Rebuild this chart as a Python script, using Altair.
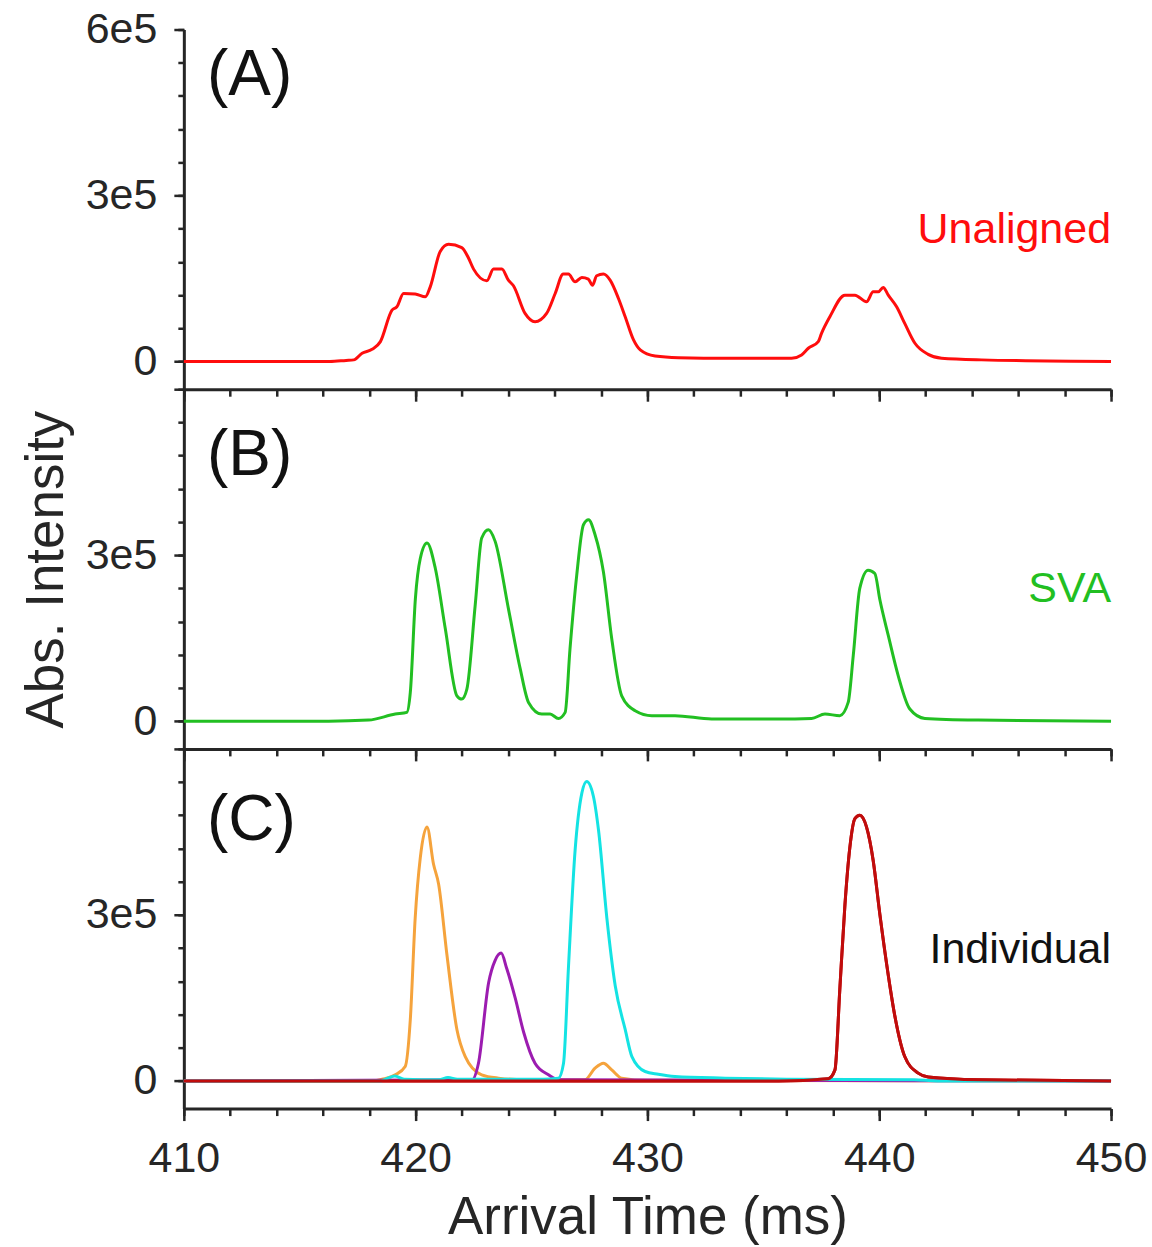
import altair as alt
import pandas as pd

FONT = "Liberation Sans"
INK = "#262626"

# ---------------- data ----------------
# Panel A: Unaligned
a_x = [410, 414, 416.3, 417.0, 417.33, 417.69, 418.12, 418.48, 418.98, 419.19, 419.48, 419.98,
       420.42, 420.63, 421.06, 421.42, 421.99, 422.28, 422.5, 423.07, 423.36, 423.72, 424.0,
       424.22, 424.72, 425.15, 425.65, 426.02, 426.37, 426.59, 426.88, 427.17, 427.45, 427.63,
       427.81, 428.1, 428.39, 428.75, 429.04, 429.4, 429.69, 430.33, 431.34, 433.5, 436.22,
       436.65, 436.94, 437.37, 437.51, 437.87, 438.52, 438.95, 439.45, 439.74, 439.96, 440.17,
       440.39, 440.75, 441.1, 441.54, 442.11, 442.69, 444.41, 450]
a_y = [0, 0, 0, 2000, 3000, 15000, 22000, 36000, 93000, 99000, 123000, 122000,
       117000, 135000, 199000, 212000, 206000, 187000, 167000, 146000, 167000, 167000, 147000,
       137000, 87000, 72000, 87000, 123000, 158000, 158000, 144000, 152000, 149000, 138000,
       155000, 158000, 147000, 114000, 81000, 39000, 21000, 10000, 7000, 6000, 6000,
       12000, 24000, 36000, 51000, 81000, 120000, 120000, 108000, 126000, 126000, 134000,
       120000, 99000, 69000, 33000, 13000, 6000, 3000, 0]

# Panel B: SVA
b_x = [410, 416.25, 417.97, 419.12, 419.62, 419.77, 419.99, 420.2, 420.49, 420.85, 421.28,
       421.78, 421.99, 422.21, 422.57, 422.85, 423.14, 423.43, 424.0, 424.51, 424.87, 425.44,
       425.8, 426.16, 426.45, 426.66, 426.95, 427.24, 427.46, 427.74, 428.1, 428.46, 428.89,
       429.47, 430.19, 431.19, 432.77, 435.65, 437.08, 437.66, 438.3, 438.66, 438.88, 439.16,
       439.52, 439.81, 440.03, 440.39, 440.82, 441.32, 441.97, 444.27, 450]
b_y = [0, 0, 2000, 13000, 16000, 52000, 222000, 294000, 322000, 276000, 167000,
       46000, 40000, 58000, 210000, 331000, 346000, 325000, 204000, 95000, 34000, 13000,
       13000, 5000, 16000, 131000, 264000, 355000, 364000, 337000, 270000, 149000, 46000,
       19000, 10000, 10000, 4000, 4000, 5000, 13000, 10000, 34000, 119000, 240000,
       273000, 267000, 219000, 155000, 82000, 22000, 5000, 2000, 0]

# Panel C: Individual
c1_x = [410, 418.2, 418.55, 419.12, 419.55, 419.77, 419.98, 420.2, 420.49, 420.77, 420.99,
        421.35, 421.78, 422.14, 422.85, 423.58, 424.72, 427.3, 427.74, 428.1, 428.46, 428.89,
        430, 450]
c1_y = [0, 0, 3000, 11000, 26000, 111000, 294000, 403000, 459000, 392000, 356000,
        228000, 93000, 44000, 11000, 5000, 2000, 2000, 23000, 32000, 20000, 5000,
        1000, 0]

c2_x = [410, 422.43, 422.71, 423.15, 423.43, 423.69, 423.93, 424.3, 424.66, 425.15, 425.73,
        426.16, 450]
c2_y = [0, 2000, 32000, 178000, 218000, 231000, 203000, 149000, 88000, 32000, 11000,
        2000, 0]

c3_x = [410, 418.5, 418.8, 419.1, 419.5, 421.0, 421.4, 421.8, 425.5, 426.16, 426.38, 426.59,
        426.88, 427.17, 427.38, 427.67, 427.89, 428.25, 428.61, 429.04, 429.33, 429.9, 430.47,
        431.19, 433.35, 436, 441.5, 442.5, 450]
c3_y = [0, 0, 5000, 9000, 3000, 2000, 6000, 3000, 3000, 5000, 32000, 203000,
        417000, 520000, 541000, 514000, 453000, 294000, 172000, 93000, 44000, 17000, 12000,
        8000, 5000, 3000, 2000, 0, 0]

c4_x = [410, 435.65, 437.8, 438.09, 438.3, 438.52, 438.73, 438.95, 439.16, 439.45, 439.74,
        440.03, 440.39, 440.67, 441.1, 441.68, 442.11, 444.27, 450]
c4_y = [0, 0, 4000, 20000, 166000, 318000, 421000, 474000, 480000, 459000, 398000,
        300000, 191000, 118000, 44000, 14000, 7000, 2000, 0]

# text labels
panel_labels = ["(A)", "(B)", "(C)"]
panel_label_x = [411.0, 411.0, 411.0]
panel_label_y = [482000, 445000, 436000]
annotations = ["Unaligned", "SVA", "Individual"]
annotation_x = [450, 450, 450]
annotation_y = [214000, 216000, 213000]
annotation_colors = ["#ff0d0d", "#22bf22", "#111111"]

x_major = [410, 420, 430, 440, 450]
x_minor = list(range(410, 451, 2))
y_minor = [0, 60000, 120000, 180000, 240000, 300000, 360000, 420000, 480000, 540000, 600000]

X_DOMAIN = [410, 450]
Y_DOMAIN = [-50000, 600000]

W, H = 928, 360


def ylabel_expr(show_top):
    if show_top:
        return "datum.value === 0 ? '0' : datum.value === 300000 ? '3e5' : datum.value === 600000 ? '6e5' : ''"
    return "datum.value === 0 ? '0' : datum.value === 300000 ? '3e5' : ''"


def make_panel(series, idx, show_top, bottom, ytitle):
    xs = alt.Scale(domain=X_DOMAIN, nice=False, zero=False)
    ys = alt.Scale(domain=Y_DOMAIN, nice=False, zero=False)

    x_major_axis = alt.Axis(values=x_major, orient="bottom", tickSize=12, labels=bottom,
                            labelFlush=False,
                            title="Arrival Time (ms)" if bottom else None,
                            labelPadding=17, titlePadding=11, domain=True)
    x_minor_axis = alt.Axis(values=x_minor, orient="bottom", tickSize=7, labels=False,
                            title=None, domain=False)
    y_major_axis = alt.Axis(values=[0, 300000, 600000], orient="left", tickSize=10,
                            labelExpr=ylabel_expr(show_top), labelPadding=17,
                            labelFlush=False,
                            title=ytitle if ytitle else None, titlePadding=12, domain=True)
    y_minor_axis = alt.Axis(values=y_minor, orient="left", tickSize=6, labels=False,
                            title=None, domain=False)

    layers = []
    for k, (sx, sy, col) in enumerate(series):
        df = pd.DataFrame({"t": sx, "v": sy})
        if k == 0:
            xa, ya = x_major_axis, y_major_axis
        else:
            xa, ya = None, None
        layers.append(
            alt.Chart(df).mark_line(color=col, strokeWidth=3, interpolate="monotone").encode(
                x=alt.X("t:Q", scale=xs, axis=xa),
                y=alt.Y("v:Q", scale=ys, axis=ya),
            )
        )

    lab_df = pd.DataFrame({"t": [panel_label_x[idx]], "v": [panel_label_y[idx]],
                           "s": [panel_labels[idx]]})
    layers.append(
        alt.Chart(lab_df).mark_text(font=FONT, fontSize=64, align="left",
                                    baseline="alphabetic", color="#111111").encode(
            x=alt.X("t:Q", scale=xs, axis=x_minor_axis),
            y=alt.Y("v:Q", scale=ys, axis=y_minor_axis),
            text="s:N",
        )
    )
    ann_df = pd.DataFrame({"t": [annotation_x[idx]], "v": [annotation_y[idx]],
                           "s": [annotations[idx]]})
    layers.append(
        alt.Chart(ann_df).mark_text(font=FONT, fontSize=43, align="right",
                                    baseline="alphabetic", color=annotation_colors[idx]).encode(
            x=alt.X("t:Q", scale=xs, axis=None),
            y=alt.Y("v:Q", scale=ys, axis=None),
            text="s:N",
        )
    )
    return alt.layer(*layers).resolve_scale(x="shared", y="shared").resolve_axis(
        x="independent", y="independent").properties(width=W, height=H)


pA = make_panel([(a_x, a_y, "#ff0d0d")], 0, True, False, None)
pB = make_panel([(b_x, b_y, "#22bf22")], 1, False, False, "Abs. Intensity")
pC = make_panel([(c4_x, c4_y, "#c00c0c"), (c1_x, c1_y, "#f5a33c"), (c2_x, c2_y, "#9c1cb0"),
                 (c3_x, c3_y, "#14e3e3"), (c4_x, c4_y, "#c00c0c")], 2, False, True, None)

chart = alt.vconcat(pA, pB, pC, spacing=0, bounds="flush").properties(
    padding={"left": 20, "top": 8, "right": 5, "bottom": 2},
    background="white",
).configure_view(stroke=None).configure_axis(
    grid=False,
    domainColor=INK, domainWidth=3,
    tickColor=INK, tickWidth=2.5,
    labelFont=FONT, labelFontSize=43, labelColor=INK,
    titleFont=FONT, titleFontSize=53, titleFontWeight="normal", titleColor=INK,
)

chart.save("out.html", embed_options={"renderer": "svg", "actions": False})
